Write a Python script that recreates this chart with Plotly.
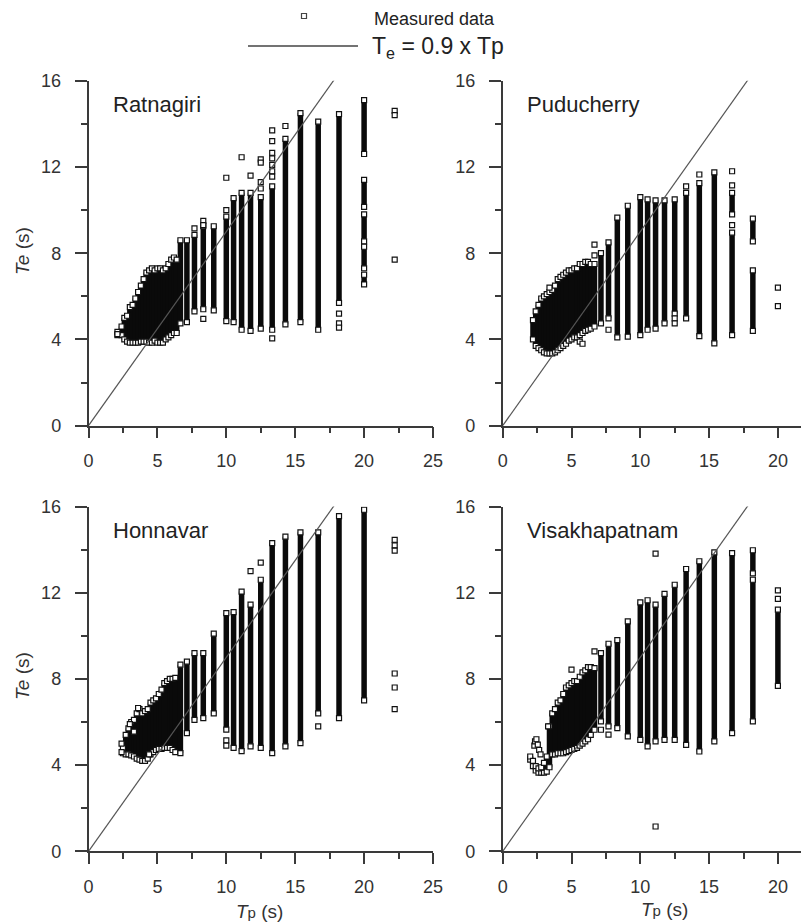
import plotly.graph_objects as go

W, H = 809, 924

# ---------------- data (Tp, Te in seconds) ----------------
# Each site: columns of stacked measurements (Tp, lowest Te, highest Te) and isolated points.
rat_col_tp = [2.1, 2.4, 2.6, 2.8, 3.0, 3.2, 3.4, 3.6, 3.8, 4.0, 4.2, 4.4, 4.6, 4.8, 5.0, 5.2, 5.4, 5.6, 5.8, 6.0, 6.2, 6.4,
              6.67, 7.14, 7.69, 8.33, 9.09, 10.0, 10.53, 11.11, 11.76, 12.5, 13.33, 14.29, 15.38, 16.67, 18.18,
              20.0, 20.0, 20.0, 20.0, 20.0]
rat_col_lo = [4.2, 4.2, 4.0, 3.9, 3.85, 3.85, 3.85, 3.85, 3.9, 3.9, 3.9, 3.85, 3.85, 3.95, 3.85, 3.85, 3.85, 4.0, 4.1, 4.2, 4.3, 4.3,
              4.75, 4.8, 5.3, 5.4, 5.35, 4.85, 4.8, 4.45, 4.4, 4.5, 4.45, 4.7, 4.8, 4.45, 5.7,
              12.6, 10.15, 8.55, 7.3, 6.55]
rat_col_hi = [4.35, 4.6, 5.0, 5.1, 5.5, 5.6, 5.9, 6.2, 6.5, 6.8, 7.1, 7.2, 7.3, 7.2, 7.3, 7.3, 7.2, 7.3, 7.5, 7.7, 7.8, 7.7,
              8.6, 8.6, 8.85, 9.25, 9.25, 9.7, 10.55, 10.8, 10.8, 10.6, 11.1, 13.3, 14.5, 14.1, 14.45,
              15.1, 11.4, 9.8, 8.3, 7.0]
rat_pt_tp = [2.1, 7.69, 8.33, 8.33, 8.33, 10.0, 10.0, 11.11, 11.76, 12.5, 12.5, 12.5, 12.5, 13.33, 13.33, 13.33,
             13.33, 13.33, 13.33, 13.33, 13.33, 14.29, 18.18, 18.18, 18.18, 22.22, 22.22, 22.22]
rat_pt_te = [4.25, 9.15, 9.5, 9.3, 4.95, 10.0, 11.5, 12.45, 11.6, 12.35, 12.2, 11.3, 11.0, 4.05, 13.7, 13.2,
             12.65, 12.4, 12.1, 11.8, 11.55, 13.9, 5.2, 4.75, 4.55, 14.6, 14.4, 7.7]

pud_col_tp = [2.2, 2.4, 2.6, 2.8, 3.0, 3.2, 3.4, 3.6, 3.8, 4.0, 4.2, 4.4, 4.6, 4.8, 5.0, 5.2, 5.4, 5.6, 5.8, 6.0, 6.2, 6.4,
              6.67, 7.14, 7.69, 8.33, 9.09, 10.0, 10.53, 11.11, 11.76, 12.5, 13.33, 14.29, 15.38,
              16.67, 16.67, 18.18, 18.18]
pud_col_lo = [4.0, 3.7, 3.6, 3.5, 3.4, 3.35, 3.35, 3.35, 3.4, 3.5, 3.6, 3.7, 3.8, 3.95, 4.0, 4.1, 4.1, 4.2, 4.3, 4.4, 4.45, 4.5,
              4.6, 4.75, 4.98, 4.1, 4.13, 4.2, 4.45, 4.5, 4.75, 5.2, 4.98, 4.15, 3.82,
              4.2, 9.8, 4.4, 8.55]
pud_col_hi = [4.9, 5.3, 5.6, 5.9, 6.0, 6.1, 6.2, 6.3, 6.5, 6.8, 6.9, 7.0, 7.1, 7.2, 7.2, 7.3, 7.3, 7.5, 7.5, 7.6, 7.6, 7.5,
              7.5, 8.0, 8.5, 9.65, 10.2, 10.6, 10.5, 10.45, 10.45, 10.5, 10.8, 11.25, 11.75,
              8.95, 10.8, 7.2, 9.6]
pud_pt_tp = [3.4, 5.6, 5.8, 6.67, 6.67, 7.69, 12.5, 12.5, 13.33, 14.29, 16.67, 16.67, 16.67, 20.0, 20.0]
pud_pt_te = [6.4, 3.9, 3.8, 8.4, 7.9, 4.45, 4.98, 4.75, 11.1, 11.65, 11.8, 11.15, 9.3, 6.4, 5.55]

hon_col_tp = [2.5, 2.7, 2.9, 3.1, 3.3, 3.5, 3.7, 3.9, 4.1, 4.3, 4.5, 4.7, 4.9, 5.1, 5.3, 5.5, 5.7, 5.9, 6.1, 6.3,
              6.67, 7.14, 7.69, 8.33, 9.09, 10.0, 10.53, 11.11, 11.76, 12.5, 13.33, 14.29, 15.38, 16.67, 18.18, 20.0]
hon_col_lo = [4.55, 4.5, 4.5, 4.45, 4.4, 4.3, 4.25, 4.2, 4.2, 4.3, 4.5, 4.6, 4.7, 4.75, 4.75, 4.8, 4.8, 4.8, 4.7, 4.6,
              4.56, 5.48, 6.1, 6.18, 6.4, 5.65, 4.8, 4.65, 4.87, 4.8, 4.56, 4.87, 5.02, 6.4, 6.18, 7.0]
hon_col_hi = [4.8, 5.4, 5.7, 6.0, 6.1, 6.4, 6.6, 6.4, 6.5, 6.6, 6.9, 7.0, 7.1, 7.3, 7.5, 7.8, 7.9, 8.0, 8.0, 8.05,
              8.66, 8.8, 9.2, 9.2, 10.1, 11.05, 11.1, 12.05, 11.45, 12.6, 14.3, 14.6, 14.8, 14.8, 15.55, 15.85]
hon_pt_tp = [2.4, 2.4, 3.0, 3.3, 3.6, 4.4, 10.0, 10.0, 11.76, 12.5, 16.67, 22.22, 22.22, 22.22, 22.22, 22.22, 22.22]
hon_pt_te = [4.6, 5.0, 5.9, 5.55, 6.65, 4.5, 5.15, 4.9, 13.0, 13.4, 5.8, 14.45, 14.2, 13.95, 8.25, 7.6, 6.6]

vis_col_tp = [2.0, 2.2, 2.4, 2.6, 2.8, 3.0, 3.2, 3.4, 3.6, 3.8, 4.0, 4.2, 4.4, 4.6, 4.8, 5.0, 5.2, 5.4, 5.6, 5.8, 6.0, 6.2, 6.4,
              6.67, 7.14, 7.69, 8.33, 9.09, 10.0, 10.53, 11.11, 11.76, 12.5, 13.33, 14.29, 15.38, 16.67,
              18.18, 18.18, 20.0]
vis_col_lo = [4.25, 3.95, 3.75, 3.65, 3.65, 3.65, 3.7, 3.9, 4.5, 4.5, 4.55, 4.55, 4.55, 4.6, 4.65, 4.7, 4.75, 4.8, 4.9, 5.0, 5.1, 5.2, 5.4,
              5.64, 6.03, 5.8, 5.72, 5.33, 5.17, 4.87, 5.1, 5.17, 5.17, 4.94, 4.63, 5.1, 5.48,
              6.03, 12.9, 7.68]
vis_col_hi = [4.4, 4.2, 3.95, 3.85, 3.9, 4.1, 4.4, 5.8, 6.4, 6.6, 6.9, 7.0, 7.3, 7.6, 7.7, 7.8, 7.9, 7.9, 8.1, 8.3, 8.4, 8.55, 8.55,
              8.5, 9.2, 9.63, 9.8, 10.67, 11.55, 11.65, 11.45, 11.95, 12.37, 13.1, 13.46, 13.87, 13.84,
              12.6, 13.97, 11.21]
vis_pt_tp = [2.3, 2.35, 2.45, 2.55, 2.65, 2.75, 3.3, 5.0, 6.67, 7.14, 7.69, 11.11, 11.11, 20.0, 20.0]
vis_pt_te = [4.9, 5.1, 5.2, 4.95, 4.7, 4.5, 5.8, 8.43, 9.28, 5.64, 5.41, 13.81, 1.15, 12.11, 11.71]

sites = ["Ratnagiri", "Puducherry", "Honnavar", "Visakhapatnam"]
site_data = [
    (rat_col_tp, rat_col_lo, rat_col_hi, rat_pt_tp, rat_pt_te),
    (pud_col_tp, pud_col_lo, pud_col_hi, pud_pt_tp, pud_pt_te),
    (hon_col_tp, hon_col_lo, hon_col_hi, hon_pt_tp, hon_pt_te),
    (vis_col_tp, vis_col_lo, vis_col_hi, vis_pt_tp, vis_pt_te),
]

fit_ratio = 0.9
fit_tp = [0.0, 25.0]

x_ranges = [[0, 25], [0, 22.26], [0, 25], [0, 22.26]]

# ---------------- layout geometry (screen pixels; page body adds an 8 px offset) ----------------
OFF = 8.0

def fx(p):
    return (p - OFF) / W

def fy(p):
    return 1 - (p - OFF) / H

x_dom = [[fx(88.5), fx(433)], [fx(502.7), fx(809)]]
y_dom = [[fy(425.7), fy(80.7)], [fy(851.3), fy(506.5)]]

fig = go.Figure()

AXC = "#3a3a3a"
TXT = "#333333"
FONT = "Liberation Sans, Arial, sans-serif"

annotations = []
for i, (name, (ctp, clo, chi, ptp, pte)) in enumerate(zip(sites, site_data)):
    row, col = divmod(i, 2)
    n = i + 1
    xa = "x" if n == 1 else f"x{n}"
    ya = "y" if n == 1 else f"y{n}"

    # columns of overlapping measurements
    lx, ly = [], []
    for t, lo, hi in zip(ctp, clo, chi):
        lx += [t, t, None]
        ly += [lo, hi, None]
    fig.add_trace(go.Scatter(x=lx, y=ly, mode="lines", xaxis=xa, yaxis=ya,
                             line=dict(color="#0a0a0a", width=5.5), showlegend=False,
                             hoverinfo="skip"))
    # end points of columns and isolated points
    mx = list(ctp) + list(ctp) + list(ptp)
    my = list(clo) + list(chi) + list(pte)
    fig.add_trace(go.Scatter(x=mx, y=my, mode="markers", xaxis=xa, yaxis=ya,
                             marker=dict(symbol="square", size=5, color="white",
                                         line=dict(color="#111111", width=1.2)),
                             showlegend=False))
    # Te = 0.9 x Tp line
    fig.add_trace(go.Scatter(x=fit_tp, y=[fit_ratio * v for v in fit_tp], mode="lines",
                             xaxis=xa, yaxis=ya, line=dict(color="#555555", width=1.2),
                             showlegend=False))

    common = dict(showgrid=False, zeroline=False, showline=True, linecolor=AXC, linewidth=1.5,
                  ticks="outside", tickcolor=AXC, tickwidth=1.5, automargin=False,
                  tickfont=dict(family=FONT, size=18, color=TXT))
    fig.layout[f"xaxis{'' if n == 1 else n}"] = dict(
        domain=x_dom[col], anchor=ya, range=x_ranges[i], dtick=5, tick0=0, ticklen=11,
        minor=dict(dtick=2.5, ticks="outside", ticklen=6, tickcolor=AXC, tickwidth=1.5),
        ticklabelstandoff=7, **common)
    fig.layout[f"yaxis{'' if n == 1 else n}"] = dict(
        domain=y_dom[row], anchor=xa, range=[0, 16], dtick=4, tick0=0, ticklen=12,
        minor=dict(dtick=2, ticks="outside", ticklen=6, tickcolor=AXC, tickwidth=1.5),
        ticklabelstandoff=10, **common)

    annotations.append(dict(text=name, x=1.65, y=14.9, xref=xa, yref=ya, xanchor="left",
                            yanchor="middle", showarrow=False,
                            font=dict(family=FONT, size=22, color="#222222")))

# axis titles
ttl = dict(xref="paper", yref="paper", xanchor="center", yanchor="middle", showarrow=False,
           font=dict(family=FONT, size=19, color=TXT))
tp_title = "<i>T</i><span style='font-size:15px'>p</span> (s)"
annotations += [
    dict(text="<i>Te</i> (s)", x=fx(22), y=fy(251), textangle=-90, **ttl),
    dict(text="<i>Te</i> (s)", x=fx(22), y=fy(676), textangle=-90, **ttl),
    dict(text=tp_title, x=fx(259), y=fy(911), **ttl),
    dict(text=tp_title, x=fx(664), y=fy(909), **ttl),
    # legend texts
    dict(text="Measured data", x=fx(372), y=fy(19), xref="paper", yref="paper", xanchor="left",
         yanchor="middle", showarrow=False, font=dict(family=FONT, size=18, color="#222222")),
    dict(text="T<sub>e</sub> = 0.9 x Tp", x=fx(370), y=fy(47), xref="paper", yref="paper",
         xanchor="left", yanchor="middle", showarrow=False,
         font=dict(family=FONT, size=23, color="#222222")),
]

shapes = [
    dict(type="line", xref="paper", yref="paper", x0=fx(248), x1=fx(358), y0=fy(46), y1=fy(46),
         line=dict(color="#444444", width=1.5)),
    dict(type="rect", xref="paper", yref="paper", x0=fx(301.5), x1=fx(306.5), y0=fy(18.5), y1=fy(13.5),
         line=dict(color="#444444", width=1.2), fillcolor="white"),
]

fig.update_layout(width=W, height=H, margin=dict(l=0, r=0, t=0, b=0, autoexpand=False),
                  paper_bgcolor="white", plot_bgcolor="white",
                  annotations=annotations, shapes=shapes, showlegend=False,
                  font=dict(family=FONT, color=TXT))

fig.write_html("out.html")
